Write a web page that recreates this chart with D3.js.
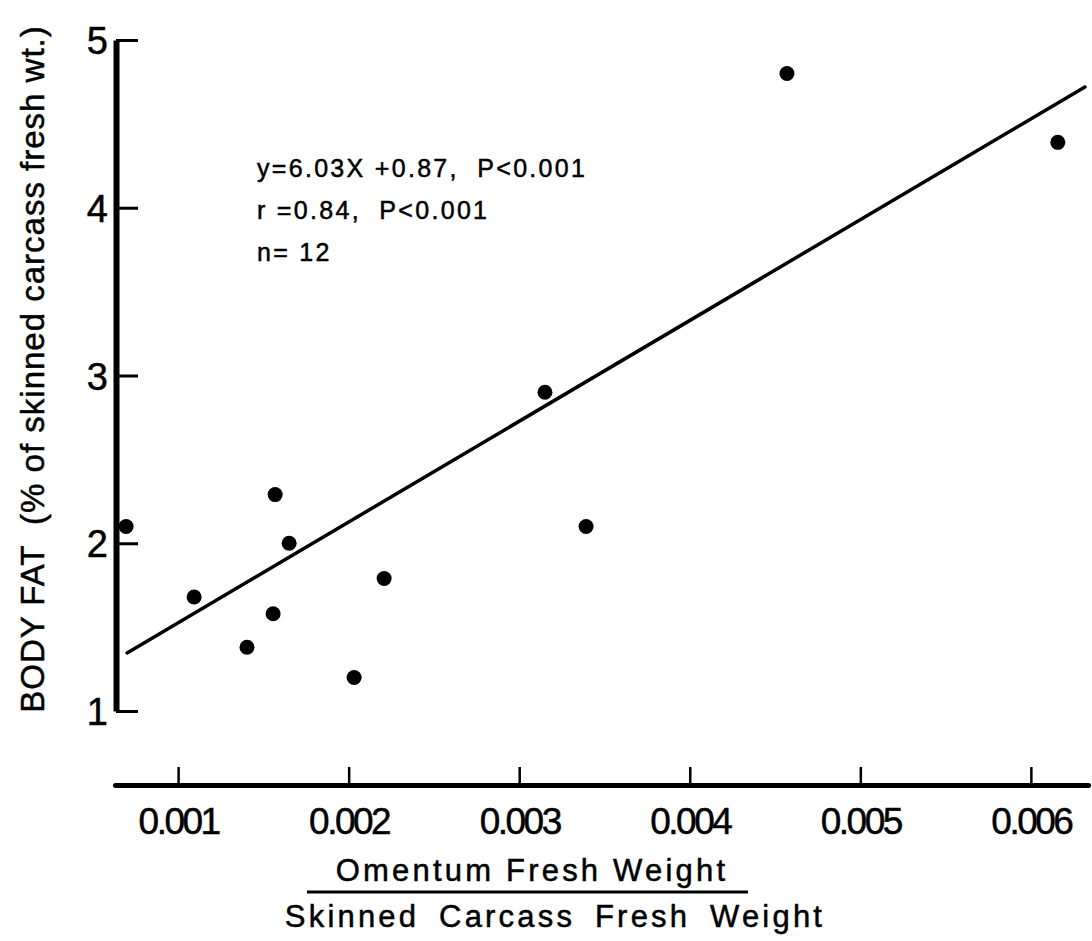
<!DOCTYPE html>
<html>
<head>
<meta charset="utf-8">
<script src="https://cdn.jsdelivr.net/npm/d3@7"></script>
<style>
  html, body { margin: 0; padding: 0; background: #fff; }
  svg { display: block; }
  text { font-family: "Liberation Sans", Arial, sans-serif; fill: #000; white-space: pre; stroke: #000; stroke-width: 0.5; }
</style>
</head>
<body>
<svg id="chart" width="1092" height="941"></svg>
<script>
// ---- data ----
const omentumRatio = [0.000695, 0.001094, 0.001404, 0.001569, 0.001557, 0.001651, 0.002032, 0.002208, 0.003151, 0.003392, 0.00457, 0.006158];
const bodyFat      = [2.10,     1.68,     1.38,     2.29,     1.58,     2.00,     1.20,     1.79,     2.90,     2.10,     4.80,    4.39];
const fitX = [0.000701, 0.006317];
const fitY = [1.346, 4.72];
const xTicks = [0.001, 0.002, 0.003, 0.004, 0.005, 0.006];
const xTickLabels = ["0.001", "0.002", "0.003", "0.004", "0.005", "0.006"];
const yTicks = [1, 2, 3, 4, 5];
const yTickLabels = ["1", "2", "3", "4", "5"];
const xExtent = [0.00063, 0.006335];
const yExtent = [1, 5];
const annotationLines = ["y=6.03X +0.87,  P<0.001", "r =0.84,  P<0.001", "n= 12"];
const yTitle = "BODY FAT  (% of skinned carcass fresh wt.)";
const xTitleTop = "Omentum Fresh Weight";
const xTitleBottom = "Skinned Carcass Fresh Weight";

const svg = d3.select("#chart");
const x = d3.scaleLinear().domain(xExtent).range([115, 1088]);
const y = d3.scaleLinear().domain(yExtent).range([711, 40]);

// x axis (separate, below the plot)
const xAxisG = svg.append("g").attr("transform", "translate(0,785)")
  .call(d3.axisBottom(x).tickValues(xTicks).tickFormat((d, i) => xTickLabels[i])
        .tickSizeInner(-18).tickSizeOuter(0).tickPadding(23));
xAxisG.select(".domain").attr("stroke", "#000").attr("stroke-width", 5).attr("stroke-linecap", "round");
xAxisG.selectAll(".tick line").attr("stroke", "#000").attr("stroke-width", 2.5);
xAxisG.selectAll(".tick text").attr("font-size", 37).attr("letter-spacing", -2.5)
  .attr("dy", "0.71em").attr("font-family", "Liberation Sans, Arial, sans-serif");

// y axis
const yAxisG = svg.append("g").attr("transform", "translate(116,0)")
  .call(d3.axisLeft(y).tickValues(yTicks).tickFormat((d, i) => yTickLabels[i])
        .tickSizeInner(-22).tickSizeOuter(0).tickPadding(8));
yAxisG.select(".domain").attr("stroke", "#000").attr("stroke-width", 6);
yAxisG.selectAll(".tick line").attr("stroke", "#000").attr("stroke-width", 3);
yAxisG.selectAll(".tick text").attr("font-size", 38).attr("dy", "0.36em")
  .attr("font-family", "Liberation Sans, Arial, sans-serif");

// regression line
svg.append("line")
  .attr("x1", x(fitX[0])).attr("y1", y(fitY[0]))
  .attr("x2", x(fitX[1])).attr("y2", y(fitY[1]))
  .attr("stroke", "#000").attr("stroke-width", 3.5).attr("stroke-linecap", "round");

// points
svg.append("g").selectAll("circle")
  .data(omentumRatio.map((v, i) => [v, bodyFat[i]]))
  .join("circle")
  .attr("cx", d => x(d[0])).attr("cy", d => y(d[1])).attr("r", 7.5).attr("fill", "#000");

// annotation
svg.append("g").selectAll("text").data(annotationLines).join("text")
  .attr("x", 257).attr("y", (d, i) => 177 + i * 42)
  .attr("font-size", 25).attr("letter-spacing", 2.3)
  .text(d => d);

// y title
svg.append("text")
  .attr("transform", "translate(44,369) rotate(-90)")
  .attr("text-anchor", "middle").attr("font-size", 33).attr("letter-spacing", 1)
  .text(yTitle);

// x title as a fraction
svg.append("text").attr("x", 532).attr("y", 881).attr("text-anchor", "middle")
  .attr("font-size", 31).attr("letter-spacing", 3.2).text(xTitleTop);
svg.append("line").attr("x1", 307).attr("x2", 748).attr("y1", 892).attr("y2", 892)
  .attr("stroke", "#000").attr("stroke-width", 3);
svg.append("text").attr("x", 555).attr("y", 927).attr("text-anchor", "middle")
  .attr("font-size", 31).attr("letter-spacing", 3.2).attr("word-spacing", 8).text(xTitleBottom);
</script>
</body>
</html>
